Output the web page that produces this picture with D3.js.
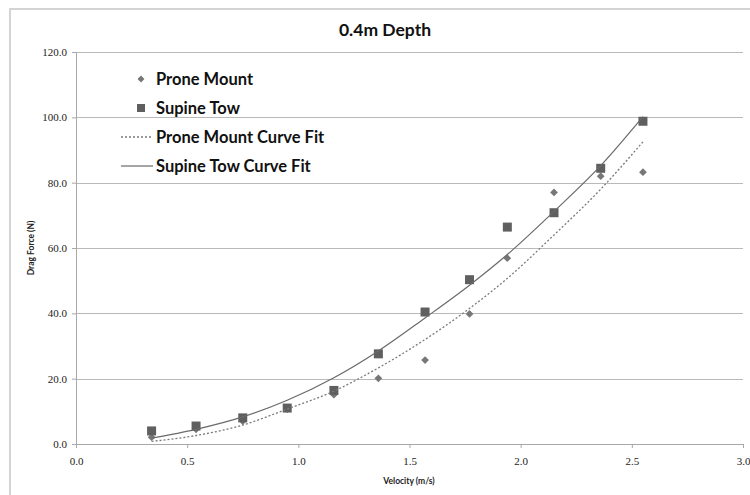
<!DOCTYPE html>
<html>
<head>
<meta charset="utf-8">
<script src="https://cdn.jsdelivr.net/npm/d3@7"></script>
<style>
  body { margin: 0; background: #ffffff; }
  svg { display: block; }
</style>
</head>
<body>
<div id="chart"></div>
<script>
// values
const velocity = [0.34, 0.54, 0.75, 0.95, 1.16, 1.36, 1.57, 1.77, 1.94, 2.15, 2.36, 2.55];
const proneMount = [2.1, 4.5, 7.0, 10.7, 15.1, 20.1, 25.7, 39.8, 56.9, 77.0, 82.0, 83.2];
const supineTow = [4.0, 5.5, 8.0, 11.0, 16.4, 27.6, 40.4, 50.3, 66.4, 70.8, 84.4, 98.8];
const proneCurveFit = [0.8, 2.6, 5.8, 10.7, 16.2, 23.3, 32.0, 41.5, 50.7, 64.0, 78.0, 92.5];
const supineCurveFit = [1.8, 4.5, 8.3, 13.4, 20.3, 28.5, 38.6, 48.6, 58.0, 71.2, 85.2, 100.2];
const xTicks = [0, 0.5, 1.0, 1.5, 2.0, 2.5, 3.0];
const yTicks = [0, 20, 40, 60, 80, 100, 120];
const legendLabels = ["Prone Mount", "Supine Tow", "Prone Mount Curve Fit", "Supine Tow Curve Fit"];

class DepthChart {
  constructor(parent) {
    let width = 750;
    let height = 495;
    this.margin = { left: 76, top: 52, right: 7, bottom: 51 };
    this.innerWidth = width - this.margin.left - this.margin.right;
    this.innerHeight = height - this.margin.top - this.margin.bottom;

    this.svg = parent.append("svg")
      .attr("width", width)
      .attr("height", height);

    // outer chart frame
    this.svg.append("rect")
      .attr("x", 10)
      .attr("y", 9)
      .attr("width", 780)
      .attr("height", 520)
      .attr("fill", "none")
      .attr("stroke", "#d4d4d4")
      .attr("stroke-width", 2);

    this.svg.append("text")
      .text("0.4m Depth")
      .attr("x", 385)
      .attr("y", 36)
      .attr("text-anchor", "middle")
      .style("font-family", "Lato, 'Open Sans', sans-serif")
      .style("font-weight", "bold")
      .style("font-size", "17.5px")
      .attr("fill", "#111");

    this.plot = this.svg.append("g")
      .attr("transform", `translate(${this.margin.left}, ${this.margin.top})`);

    this.gGrid = this.plot.append("g");
    this.gXAxis = this.plot.append("g");
    this.gYAxis = this.plot.append("g");
    this.gMarks = this.plot.append("g");
    this.gLegend = this.svg.append("g");

    this.svg.append("text")
      .text("Velocity (m/s)")
      .attr("x", 409)
      .attr("y", 484)
      .attr("text-anchor", "middle")
      .style("font-family", "Lato, sans-serif")
      .style("font-weight", "bold")
      .style("font-size", "8.5px")
      .attr("fill", "#222");

    this.svg.append("text")
      .text("Drag Force (N)")
      .attr("text-anchor", "middle")
      .attr("transform", "translate(34, 248) rotate(-90)")
      .style("font-family", "Lato, sans-serif")
      .style("font-weight", "bold")
      .style("font-size", "8.5px")
      .attr("fill", "#222");
  }

  update() {
    let w = this.innerWidth;
    let h = this.innerHeight;
    let xScale = d3.scaleLinear().domain([0, 3]).range([0, w]);
    let yScale = d3.scaleLinear().domain([0, 120]).range([h, 0]);

    // horizontal gridlines
    this.gGrid.selectAll("line.grid")
      .data(yTicks.filter(d => d > 0))
      .enter().append("line")
      .classed("grid", true)
      .attr("x1", 0)
      .attr("x2", w)
      .attr("y1", d => Math.round(yScale(d)) + 0.5)
      .attr("y2", d => Math.round(yScale(d)) + 0.5)
      .attr("stroke", "#b9b9b9")
      .attr("stroke-width", 1);

    let xAxis = d3.axisBottom(xScale)
      .tickValues(xTicks)
      .tickFormat(d3.format(".1f"))
      .tickSize(4)
      .tickPadding(9);
    this.gXAxis
      .attr("transform", `translate(0, ${h})`)
      .call(xAxis);

    let yAxis = d3.axisLeft(yScale)
      .tickValues(yTicks)
      .tickFormat(d3.format(".1f"))
      .tickSize(4)
      .tickPadding(5);
    this.gYAxis.call(yAxis);

    for (let g of [this.gXAxis, this.gYAxis]) {
      g.selectAll("path.domain").attr("stroke", "#a8a8a8");
      g.selectAll(".tick line").attr("stroke", "#a8a8a8");
      g.selectAll(".tick text")
        .attr("fill", "#222")
        .style("font-family", "'Liberation Serif', serif")
        .style("font-size", "11px");
    }

    let rows = velocity.map((v, i) => ({
      v: v,
      prone: proneMount[i],
      supine: supineTow[i],
      proneFit: proneCurveFit[i],
      supineFit: supineCurveFit[i]
    }));

    let diamond = d3.symbol(d3.symbolSquare, 30);
    let square = d3.symbol(d3.symbolSquare, 81);

    this.gMarks.selectAll("path.prone")
      .data(rows)
      .enter().append("path")
      .classed("prone", true)
      .attr("d", diamond)
      .attr("transform", d => `translate(${xScale(d.v)}, ${yScale(d.prone)}) rotate(45)`)
      .attr("fill", "#777777");

    this.gMarks.selectAll("path.supine")
      .data(rows)
      .enter().append("path")
      .classed("supine", true)
      .attr("d", square)
      .attr("transform", d => `translate(${xScale(d.v)}, ${yScale(d.supine)})`)
      .attr("fill", "#5f5f5f");

    let proneLine = d3.line()
      .x(d => xScale(d.v))
      .y(d => yScale(d.proneFit))
      .curve(d3.curveMonotoneX);
    let supineLine = d3.line()
      .x(d => xScale(d.v))
      .y(d => yScale(d.supineFit))
      .curve(d3.curveMonotoneX);

    this.gMarks.append("path")
      .datum(rows)
      .attr("d", proneLine)
      .attr("fill", "none")
      .attr("stroke", "#7a7a7a")
      .attr("stroke-width", 1.3)
      .attr("stroke-dasharray", "2,2");

    this.gMarks.append("path")
      .datum(rows)
      .attr("d", supineLine)
      .attr("fill", "none")
      .attr("stroke", "#6a6a6a")
      .attr("stroke-width", 1.2);

    // legend, no box
    let legendX = 156;
    let legendY = 79;
    let legendStep = 29;
    let item = this.gLegend.selectAll("g.legend-item")
      .data(legendLabels)
      .enter().append("g")
      .classed("legend-item", true)
      .attr("transform", (d, i) => `translate(0, ${legendY + i * legendStep})`);

    item.append("text")
      .text(d => d)
      .attr("x", legendX)
      .attr("dy", "0.35em")
      .style("font-family", "Lato, sans-serif")
      .style("font-weight", "bold")
      .style("font-size", "16.5px")
      .attr("fill", "#111");

    item.filter((d, i) => i === 0).append("path")
      .attr("d", d3.symbol(d3.symbolSquare, 24))
      .attr("transform", "translate(141, 0) rotate(45)")
      .attr("fill", "#777777");
    item.filter((d, i) => i === 1).append("path")
      .attr("d", d3.symbol(d3.symbolSquare, 64))
      .attr("transform", "translate(141, 0)")
      .attr("fill", "#5f5f5f");
    item.filter((d, i) => i === 2).append("line")
      .attr("x1", 121).attr("x2", 151)
      .attr("stroke", "#7a7a7a")
      .attr("stroke-width", 1.3)
      .attr("stroke-dasharray", "2,2");
    item.filter((d, i) => i === 3).append("line")
      .attr("x1", 121).attr("x2", 153)
      .attr("stroke", "#6a6a6a")
      .attr("stroke-width", 1.2);
  }
}

let chart = new DepthChart(d3.select("#chart"));
chart.update();
</script>
</body>
</html>
